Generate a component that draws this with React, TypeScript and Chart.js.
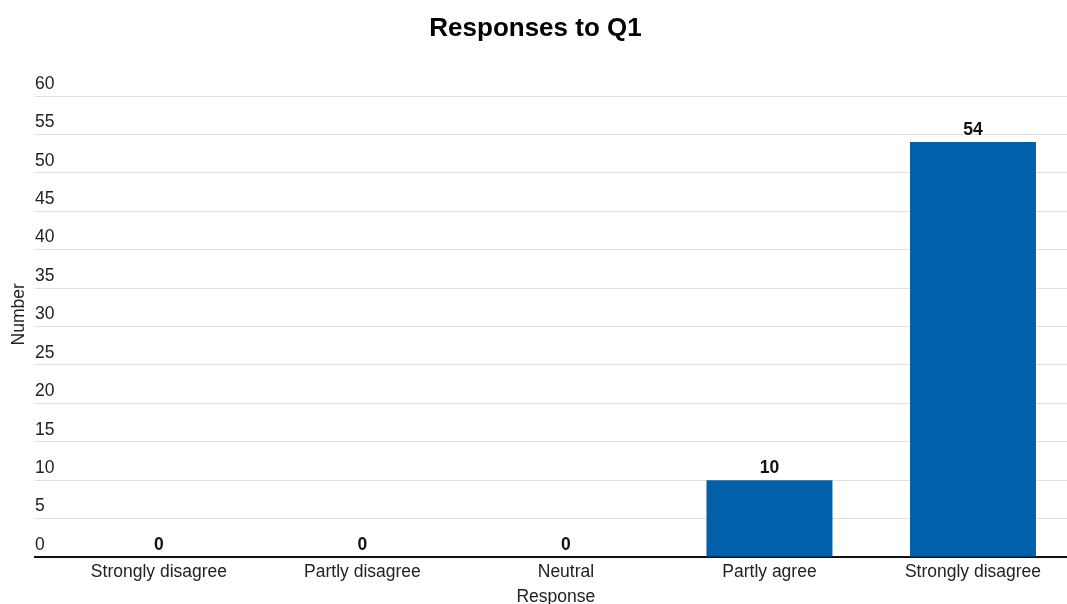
import React, { useEffect, useRef } from "react";
import { Chart, registerables } from "chart.js";

Chart.register(...registerables);

const categories = ["Strongly disagree", "Partly disagree", "Neutral", "Partly agree", "Strongly disagree"];
const counts = [0, 0, 0, 10, 54];
const yTicksMax = 60;
const yTickStep = 5;

const FONT = "'Liberation Sans', Arial, Helvetica, sans-serif";

const valueLabels = {
  id: "valueLabels",
  afterDatasetsDraw(chart: any) {
    const ctx = chart.ctx;
    const meta = chart.getDatasetMeta(0);
    const ds = chart.data.datasets[0];
    ctx.save();
    ctx.font = `bold 17.5px ${FONT}`;
    ctx.fillStyle = "#111";
    ctx.textAlign = "center";
    ctx.textBaseline = "alphabetic";
    meta.data.forEach((el: any, i: number) => {
      const v = ds.data[i].y;
      ctx.fillText(String(v), el.x, el.y - 7);
    });
    ctx.restore();
  },
};

export default function App() {
  const ref = useRef<HTMLCanvasElement | null>(null);
  useEffect(() => {
    if (!ref.current) return;
    const chart = new Chart(ref.current, {
      type: "bar",
      data: {
        datasets: [
          {
            label: "Number",
            data: counts.map((v, i) => ({ x: i, y: v })),
            backgroundColor: "#0260aa",
            borderWidth: 0,
            categoryPercentage: 1,
            barPercentage: 0.619,
          },
        ],
      },
      options: {
        responsive: false,
        animation: false,
        devicePixelRatio: 1,
        layout: { padding: { left: 4, right: 0, top: 0, bottom: 0 } },
        plugins: {
          legend: { display: false },
          tooltip: { enabled: false },
          title: {
            display: true,
            text: "Responses to Q1",
            color: "#000",
            font: { family: FONT, size: 26, weight: "bold" },
            padding: { top: 13.5, bottom: 51.3 },
          },
        },
        scales: {
          x: {
            type: "linear",
            offset: false,
            min: -0.609,
            max: 4.462,
            afterBuildTicks: (scale: any) => {
              scale.ticks = categories.map((_, i) => ({ value: i }));
            },
            grid: { display: false, drawTicks: false },
            border: { display: true, color: "#111", width: 2 },
            ticks: {
              autoSkip: false,
              maxRotation: 0,
              padding: 5,
              color: "#222",
              font: { family: FONT, size: 17.5 },
              callback: (value: any) => categories[Math.round(Number(value))],
            },
            title: {
              display: true,
              text: "  Response",
              color: "#222",
              font: { family: FONT, size: 17.5 },
              padding: { top: -1.5, bottom: 4.5 },
            },
          },
          y: {
            min: 0,
            max: yTicksMax,
            grid: { color: "#e0e0e0", lineWidth: 1, drawTicks: false },
            border: { display: false },
            ticks: {
              stepSize: yTickStep,
              mirror: true,
              padding: 0,
              labelOffset: -12,
              color: "#222",
              font: { family: FONT, size: 17.5 },
            },
            title: {
              display: true,
              text: "     Number",
              color: "#222",
              font: { family: FONT, size: 17.5 },
              padding: { top: 4.5, bottom: 5.5 },
            },
          },
        },
      } as any,
      plugins: [valueLabels],
    });
    return () => chart.destroy();
  }, []);

  return (
    <div style={{ position: "fixed", left: 0, top: 0, width: 1067, height: 604, overflow: "hidden", background: "#fff" }}>
      <canvas ref={ref} width={1067} height={612} style={{ display: "block" }} />
    </div>
  );
}
